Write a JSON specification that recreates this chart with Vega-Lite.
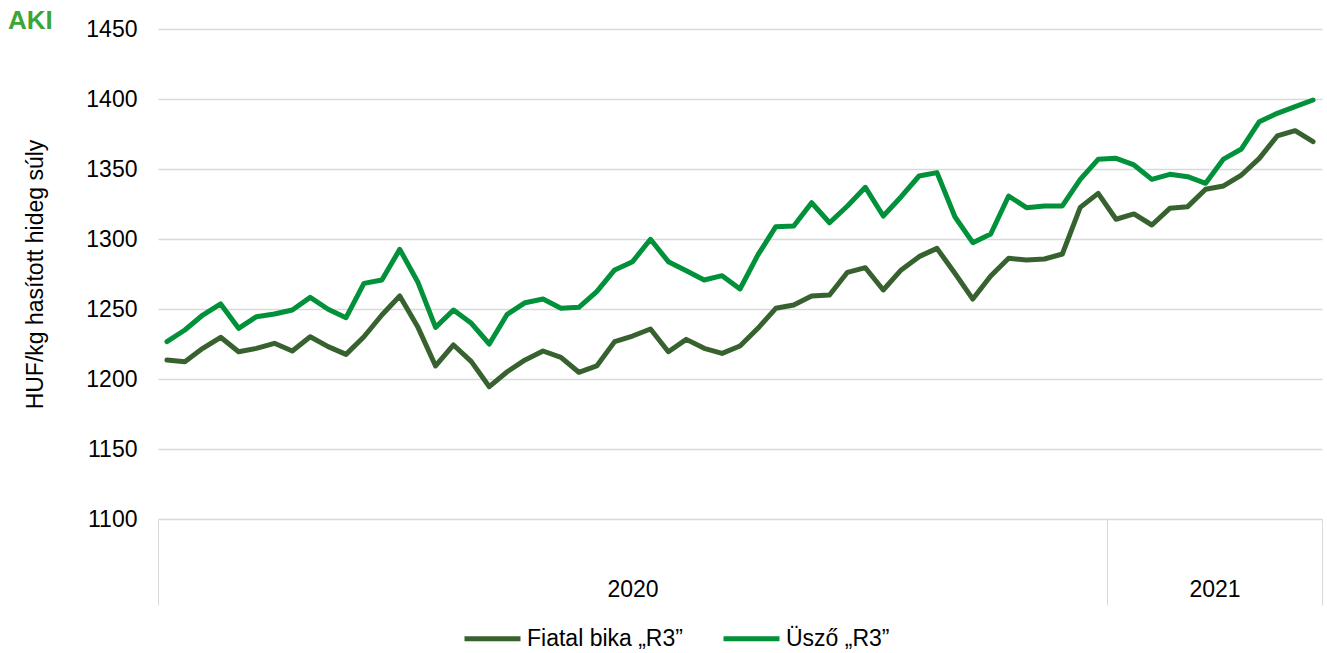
{
  "$schema": "https://vega.github.io/schema/vega-lite/v6.json",
  "width": 1164,
  "height": 490,
  "autosize": "none",
  "padding": {"left": 158, "top": 29, "right": 5, "bottom": 134},
  "background": "white",
  "config": {
    "font": "Liberation Sans",
    "view": {"stroke": null}
  },
  "title": {
    "text": "AKI",
    "anchor": "start",
    "frame": "group",
    "baseline": "top",
    "dx": -150,
    "dy": 16,
    "offset": 0,
    "fontSize": 26,
    "fontWeight": "bold",
    "color": "#3BA535"
  },
  "data": {
    "values": [
      {"i":0,"s":"Fiatal bika „R3”","v":1213.6},{"i":1,"s":"Fiatal bika „R3”","v":1212.4},{"i":2,"s":"Fiatal bika „R3”","v":1221.9},{"i":3,"s":"Fiatal bika „R3”","v":1229.8},{"i":4,"s":"Fiatal bika „R3”","v":1219.5},{"i":5,"s":"Fiatal bika „R3”","v":1221.9},{"i":6,"s":"Fiatal bika „R3”","v":1225.5},{"i":7,"s":"Fiatal bika „R3”","v":1220},{"i":8,"s":"Fiatal bika „R3”","v":1230.2},{"i":9,"s":"Fiatal bika „R3”","v":1223.1},
      {"i":10,"s":"Fiatal bika „R3”","v":1217.6},{"i":11,"s":"Fiatal bika „R3”","v":1230.2},{"i":12,"s":"Fiatal bika „R3”","v":1245.7},{"i":13,"s":"Fiatal bika „R3”","v":1259.3},{"i":14,"s":"Fiatal bika „R3”","v":1237.4},{"i":15,"s":"Fiatal bika „R3”","v":1209.3},{"i":16,"s":"Fiatal bika „R3”","v":1224.3},{"i":17,"s":"Fiatal bika „R3”","v":1212.4},{"i":18,"s":"Fiatal bika „R3”","v":1194.5},{"i":19,"s":"Fiatal bika „R3”","v":1205.2},
      {"i":20,"s":"Fiatal bika „R3”","v":1213.6},{"i":21,"s":"Fiatal bika „R3”","v":1220},{"i":22,"s":"Fiatal bika „R3”","v":1215.5},{"i":23,"s":"Fiatal bika „R3”","v":1204.8},{"i":24,"s":"Fiatal bika „R3”","v":1209.3},{"i":25,"s":"Fiatal bika „R3”","v":1226.7},{"i":26,"s":"Fiatal bika „R3”","v":1230.7},{"i":27,"s":"Fiatal bika „R3”","v":1235.7},{"i":28,"s":"Fiatal bika „R3”","v":1219.5},{"i":29,"s":"Fiatal bika „R3”","v":1228.3},
      {"i":30,"s":"Fiatal bika „R3”","v":1221.9},{"i":31,"s":"Fiatal bika „R3”","v":1218.3},{"i":32,"s":"Fiatal bika „R3”","v":1223.6},{"i":33,"s":"Fiatal bika „R3”","v":1236.2},{"i":34,"s":"Fiatal bika „R3”","v":1250.5},{"i":35,"s":"Fiatal bika „R3”","v":1252.9},{"i":36,"s":"Fiatal bika „R3”","v":1259.3},{"i":37,"s":"Fiatal bika „R3”","v":1260},{"i":38,"s":"Fiatal bika „R3”","v":1276.2},{"i":39,"s":"Fiatal bika „R3”","v":1279.5},
      {"i":40,"s":"Fiatal bika „R3”","v":1263.6},{"i":41,"s":"Fiatal bika „R3”","v":1277.9},{"i":42,"s":"Fiatal bika „R3”","v":1287.4},{"i":43,"s":"Fiatal bika „R3”","v":1293.3},{"i":44,"s":"Fiatal bika „R3”","v":1275.5},{"i":45,"s":"Fiatal bika „R3”","v":1257.1},{"i":46,"s":"Fiatal bika „R3”","v":1273.6},{"i":47,"s":"Fiatal bika „R3”","v":1286.2},{"i":48,"s":"Fiatal bika „R3”","v":1285},{"i":49,"s":"Fiatal bika „R3”","v":1285.7},
      {"i":50,"s":"Fiatal bika „R3”","v":1289.3},{"i":51,"s":"Fiatal bika „R3”","v":1322.6},{"i":52,"s":"Fiatal bika „R3”","v":1332.6},{"i":53,"s":"Fiatal bika „R3”","v":1314.1},{"i":54,"s":"Fiatal bika „R3”","v":1317.9},{"i":55,"s":"Fiatal bika „R3”","v":1310},{"i":56,"s":"Fiatal bika „R3”","v":1321.9},{"i":57,"s":"Fiatal bika „R3”","v":1323.1},{"i":58,"s":"Fiatal bika „R3”","v":1335.5},{"i":59,"s":"Fiatal bika „R3”","v":1337.9},
      {"i":60,"s":"Fiatal bika „R3”","v":1345.7},{"i":61,"s":"Fiatal bika „R3”","v":1357.6},{"i":62,"s":"Fiatal bika „R3”","v":1373.6},{"i":63,"s":"Fiatal bika „R3”","v":1377.4},{"i":64,"s":"Fiatal bika „R3”","v":1369.5},
      {"i":0,"s":"Üsző „R3”","v":1226.7},{"i":1,"s":"Üsző „R3”","v":1235},{"i":2,"s":"Üsző „R3”","v":1245.7},{"i":3,"s":"Üsző „R3”","v":1253.6},{"i":4,"s":"Üsző „R3”","v":1236.2},{"i":5,"s":"Üsző „R3”","v":1244.5},{"i":6,"s":"Üsző „R3”","v":1246.4},{"i":7,"s":"Üsző „R3”","v":1249.3},{"i":8,"s":"Üsző „R3”","v":1258.3},{"i":9,"s":"Üsző „R3”","v":1249.8},
      {"i":10,"s":"Üsző „R3”","v":1243.8},{"i":11,"s":"Üsző „R3”","v":1268.3},{"i":12,"s":"Üsző „R3”","v":1270.7},{"i":13,"s":"Üsző „R3”","v":1292.6},{"i":14,"s":"Üsző „R3”","v":1269.5},{"i":15,"s":"Üsző „R3”","v":1236.9},{"i":16,"s":"Üsző „R3”","v":1249.3},{"i":17,"s":"Üsző „R3”","v":1239.8},{"i":18,"s":"Üsző „R3”","v":1225},{"i":19,"s":"Üsző „R3”","v":1246.2},
      {"i":20,"s":"Üsző „R3”","v":1254.5},{"i":21,"s":"Üsző „R3”","v":1257.1},{"i":22,"s":"Üsző „R3”","v":1250.5},{"i":23,"s":"Üsző „R3”","v":1251.2},{"i":24,"s":"Üsző „R3”","v":1262.4},{"i":25,"s":"Üsző „R3”","v":1277.9},{"i":26,"s":"Üsző „R3”","v":1283.8},{"i":27,"s":"Üsző „R3”","v":1299.8},{"i":28,"s":"Üsző „R3”","v":1283.8},{"i":29,"s":"Üsző „R3”","v":1277.4},
      {"i":30,"s":"Üsző „R3”","v":1270.7},{"i":31,"s":"Üsző „R3”","v":1273.8},{"i":32,"s":"Üsző „R3”","v":1264.3},{"i":33,"s":"Üsző „R3”","v":1288.6},{"i":34,"s":"Üsző „R3”","v":1308.8},{"i":35,"s":"Üsző „R3”","v":1309.3},{"i":36,"s":"Üsző „R3”","v":1325.9},{"i":37,"s":"Üsző „R3”","v":1311.6},{"i":38,"s":"Üsző „R3”","v":1323.6},{"i":39,"s":"Üsző „R3”","v":1336.9},
      {"i":40,"s":"Üsző „R3”","v":1316.4},{"i":41,"s":"Üsző „R3”","v":1330.2},{"i":42,"s":"Üsző „R3”","v":1345},{"i":43,"s":"Üsző „R3”","v":1347.4},{"i":44,"s":"Üsző „R3”","v":1315.9},{"i":45,"s":"Üsző „R3”","v":1297.4},{"i":46,"s":"Üsző „R3”","v":1303.6},{"i":47,"s":"Üsző „R3”","v":1330.7},{"i":48,"s":"Üsző „R3”","v":1322.4},{"i":49,"s":"Üsző „R3”","v":1323.6},
      {"i":50,"s":"Üsző „R3”","v":1323.6},{"i":51,"s":"Üsző „R3”","v":1342.6},{"i":52,"s":"Üsző „R3”","v":1356.9},{"i":53,"s":"Üsző „R3”","v":1357.6},{"i":54,"s":"Üsző „R3”","v":1352.9},{"i":55,"s":"Üsző „R3”","v":1342.6},{"i":56,"s":"Üsző „R3”","v":1346.2},{"i":57,"s":"Üsző „R3”","v":1344.5},{"i":58,"s":"Üsző „R3”","v":1339.8},{"i":59,"s":"Üsző „R3”","v":1357.1},
      {"i":60,"s":"Üsző „R3”","v":1364.3},{"i":61,"s":"Üsző „R3”","v":1383.8},{"i":62,"s":"Üsző „R3”","v":1389.8},{"i":63,"s":"Üsző „R3”","v":1394.5},{"i":64,"s":"Üsző „R3”","v":1399.3}
    ]
  },
  "mark": {"type": "line", "strokeWidth": 5, "strokeCap": "round", "strokeJoin": "round"},
  "encoding": {
    "x": {
      "field": "i",
      "type": "quantitative",
      "scale": {"domain": [-0.5, 64.5], "nice": false, "zero": false},
      "axis": {
        "title": null,
        "grid": false,
        "values": [-0.5, 26, 52.5, 58.5, 64.5],
        "labelExpr": "datum.value == 26 ? '2020' : (datum.value == 58.5 ? '2021' : '')",
        "tickSize": 86,
        "tickColor": "#d9d9d9",
        "tickOpacity": {"condition": {"test": "datum.value == 26 || datum.value == 58.5", "value": 0}, "value": 1},
        "domainColor": "#d9d9d9",
        "domainWidth": 1,
        "labelPadding": -27,
        "labelFontSize": 23,
        "labelColor": "#000000",
        "labelFont": "Liberation Sans",
        "labelBound": false,
        "labelOverlap": false,
        "labelFlush": false
      }
    },
    "y": {
      "field": "v",
      "type": "quantitative",
      "scale": {"domain": [1100, 1450], "nice": false, "zero": false},
      "axis": {
        "title": "HUF/kg hasított hideg súly",
        "titleFontSize": 23,
        "titleFontWeight": "normal",
        "titleColor": "#000000",
        "titleFont": "Liberation Sans",
        "titlePadding": 38,
        "values": [1100, 1150, 1200, 1250, 1300, 1350, 1400, 1450],
        "format": "d",
        "domain": false,
        "ticks": false,
        "gridColor": "#d9d9d9",
        "gridWidth": 1.5,
        "labelFontSize": 23,
        "labelColor": "#000000",
        "labelFont": "Liberation Sans",
        "labelPadding": 21
      }
    },
    "color": {
      "field": "s",
      "type": "nominal",
      "scale": {"domain": ["Fiatal bika „R3”", "Üsző „R3”"], "range": ["#37622F", "#00913A"]},
      "legend": {
        "title": null,
        "orient": "none",
        "legendX": 304,
        "legendY": 579,
        "direction": "horizontal",
        "symbolType": "stroke",
        "symbolStrokeWidth": 5,
        "symbolSize": 3136,
        "labelFontSize": 23,
        "labelColor": "#000000",
        "labelFont": "Liberation Sans",
        "labelOffset": 4,
        "columnPadding": 30,
        "labelLimit": 400
      }
    }
  }
}
